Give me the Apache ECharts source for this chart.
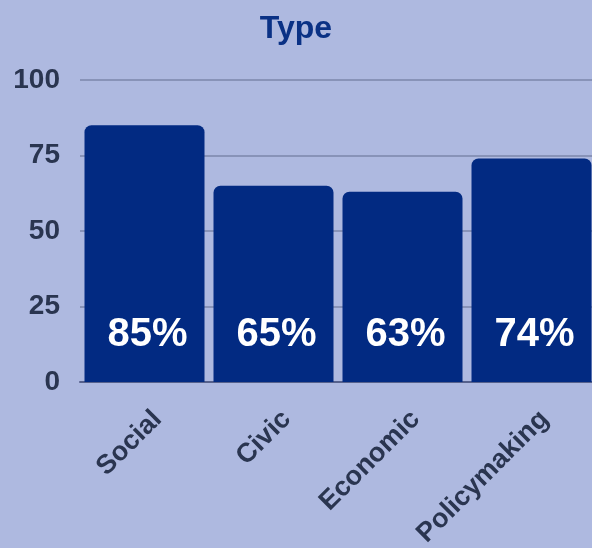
<!DOCTYPE html>
<html><head><meta charset="utf-8">
<script src="https://cdn.jsdelivr.net/npm/echarts@6/dist/echarts.min.js"></script>
<style>html,body{margin:0;padding:0;background:#aeb9e0;}#c{width:592px;height:548px;}</style>
</head><body><div id="c"></div>
<script>
const categories = ['Social', 'Civic', 'Economic', 'Policymaking'];
const values = [85, 65, 63, 74];
const yTicks = [0, 25, 50, 75, 100];

const chart = echarts.init(document.getElementById('c'));
chart.setOption({
  backgroundColor: '#aeb9e0',
  animation: false,
  title: {
    text: 'Type', left: 'center', top: 8,
    textStyle: { fontFamily: 'Liberation Sans', fontWeight: 'bold', fontSize: 32, color: '#0a3185' }
  },
  grid: { left: 80, width: 516, top: 80, bottom: 166, outerBoundsMode: 'none', containLabel: false },
  xAxis: {
    type: 'category', data: categories,
    axisLine: { show: true, lineStyle: { color: '#56618c', width: 2 } },
    axisTick: { show: false },
    axisLabel: { rotate: 45, margin: 20, verticalAlign: 'top', padding: [5, 0, 0, 0],
      fontFamily: 'Liberation Sans', fontWeight: 'bold', fontSize: 27, color: '#2a3550' }
  },
  yAxis: {
    type: 'value', min: yTicks[0], max: yTicks[yTicks.length - 1], interval: 25,
    axisLine: { show: false }, axisTick: { show: false },
    splitLine: { lineStyle: { color: '#8893b8', width: 2 } },
    axisLabel: { margin: 20, fontFamily: 'Liberation Sans', fontWeight: 'bold', fontSize: 28, color: '#2a3550' }
  },
  series: [{
    type: 'bar', data: values, barWidth: 120,
    itemStyle: { color: '#022a82', borderRadius: [7, 7, 0, 0] },
    label: {
      show: true, position: 'insideBottom', distance: 27, offset: [3, 0],
      formatter: p => p.value + '%',
      fontFamily: 'Liberation Sans', fontWeight: 'bold', fontSize: 40, color: '#ffffff'
    }
  }]
});
</script></body></html>
